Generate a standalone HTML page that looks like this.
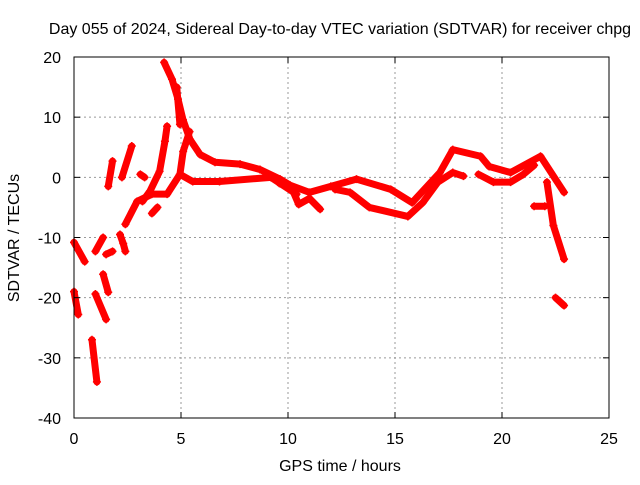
<!DOCTYPE html>
<html><head><meta charset="utf-8"><style>
body{margin:0;background:#fff}
svg text{font-family:"Liberation Sans",sans-serif;font-size:16px;fill:#000}
</style></head><body>
<svg id="c" width="640" height="480">
<rect width="640" height="480" fill="#fff"/>
<text x="340" y="34" text-anchor="middle">Day 055 of 2024, Sidereal Day-to-day VTEC variation (SDTVAR) for receiver chpg</text>
<text x="340" y="471" text-anchor="middle">GPS time / hours</text>
<text transform="translate(19,238) rotate(-90)" text-anchor="middle">SDTVAR / TECUs</text>
<g id="grid"></g><g id="marks"></g>
<rect x="74" y="57" width="535" height="361" fill="none" stroke="#000"/>
<g id="ticks"></g>
</svg>
<script>
const xTicks=[0,5,10,15,20,25];
const yTicks=[-40,-30,-20,-10,0,10,20];
const trackHours=[
[4.21,4.58,4.86,5.09,5.42,5.89,6.59,7.76,8.69,9.63,10.09,11,12,13.2,14.8,15.8,17.1,17.7,19,19.4,20.4,21.8,22.9],
[12.2,12.9,13.8,15.6,16.3,17,17.7,18.2],
[18.9,19.6,20.4,21,21.5],
[9.6,10.2,10.5,11,11.5],
[4.95,5.55,6.8,9.2,10.4],
[4.95,5.1,5.4],
[22.1,22.4,22.9],
[21.5,22],
[22.5,22.9],
[0,0.5],[1,1.36],[1.5,1.8],[1.36,1.6],[0,0.2],[1,1.5],[0.84,1.07],[1.6,1.8],[2.24,2.7],[3.1,3.3],
[2.15,2.3,2.4],
[2.4,2.95,3.64,4.35,4.95],
[3.2,3.55,4,4.25,4.35],
[3.64,3.9],
[4.8,4.95]
];
const trackValues=[
[19.1,16.3,13,9.6,6.3,3.8,2.5,2.2,1.3,-0.3,-1.3,-2.5,-1.5,-0.3,-2,-4.2,0.8,4.6,3.5,1.8,0.8,3.5,-2.5],
[-2,-2.5,-5,-6.5,-4.2,-0.8,0.8,0.2],
[0.5,-0.8,-0.8,0.5,2],
[-1,-2,-4.5,-3.5,-5.3],
[0.5,-0.7,-0.7,0,-2.8],
[0.5,4.3,7.6],
[-0.8,-8,-13.6],
[-4.8,-4.8],
[-20,-21.3],
[-10.8,-14],[-12.3,-10],[-12.8,-12.3],[-16.1,-19.1],[-19,-22.8],[-19.4,-23.6],[-27,-34],[-1.5,2.7],[0,5.2],[0.5,0],
[-9.5,-11,-12.3],
[-7.8,-4,-2.8,-2.8,0.5],
[-4,-2.3,1,6,8.5],
[-6,-5],
[15,8.8]
];
const X=h=>74+h*21.4, Y=v=>418-(v+40)*361/60;
const ns="http://www.w3.org/2000/svg";
const g=document.getElementById('grid'),m=document.getElementById('marks'),t=document.getElementById('ticks');
function mk(p,tag,a){const e=document.createElementNS(ns,tag);for(const k in a)e.setAttribute(k,a[k]);p.appendChild(e);return e;}
xTicks.forEach(v=>{
 if(v>0&&v<25){const l=mk(g,'line',{x1:X(v),x2:X(v),y1:57,y2:418,stroke:'#999','stroke-dasharray':'2,3'});
 
 }
 mk(t,'line',{x1:X(v),x2:X(v),y1:418,y2:412,stroke:'#000'});
 mk(t,'line',{x1:X(v),x2:X(v),y1:57,y2:63,stroke:'#000'});
 const tx=mk(t,'text',{x:X(v),y:444,'text-anchor':'middle'});tx.textContent=v;
 
 
});
yTicks.forEach(v=>{
 if(v>-40&&v<20){const l=mk(g,'line',{x1:74,x2:609,y1:Y(v),y2:Y(v),stroke:'#999','stroke-dasharray':'2,3'});
 
 }
 mk(t,'line',{x1:74,x2:80,y1:Y(v),y2:Y(v),stroke:'#000'});
 mk(t,'line',{x1:603,x2:609,y1:Y(v),y2:Y(v),stroke:'#000'});
 const tx=mk(t,'text',{x:61,y:Y(v)+6,'text-anchor':'end'});tx.textContent=v;
 
 
});
trackHours.forEach((hs,i)=>{
 const vs=trackValues[i];
 const pts=hs.map((h,j)=>X(h)+','+Y(vs[j])).join(' ');
 const pl=mk(m,'polyline',{points:pts,fill:'none',stroke:'#f00','stroke-width':7,'stroke-linecap':'round','stroke-linejoin':'round'});
 
 
 hs.forEach((h,j)=>{
  const x=X(h),y=Y(vs[j]);
  const p=mk(m,'path',{d:`M${x-4},${y}H${x+4}M${x},${y-4}V${y+4}`,stroke:'#f00','stroke-width':1.5});
  
  
 });
});
</script>
</body></html>
